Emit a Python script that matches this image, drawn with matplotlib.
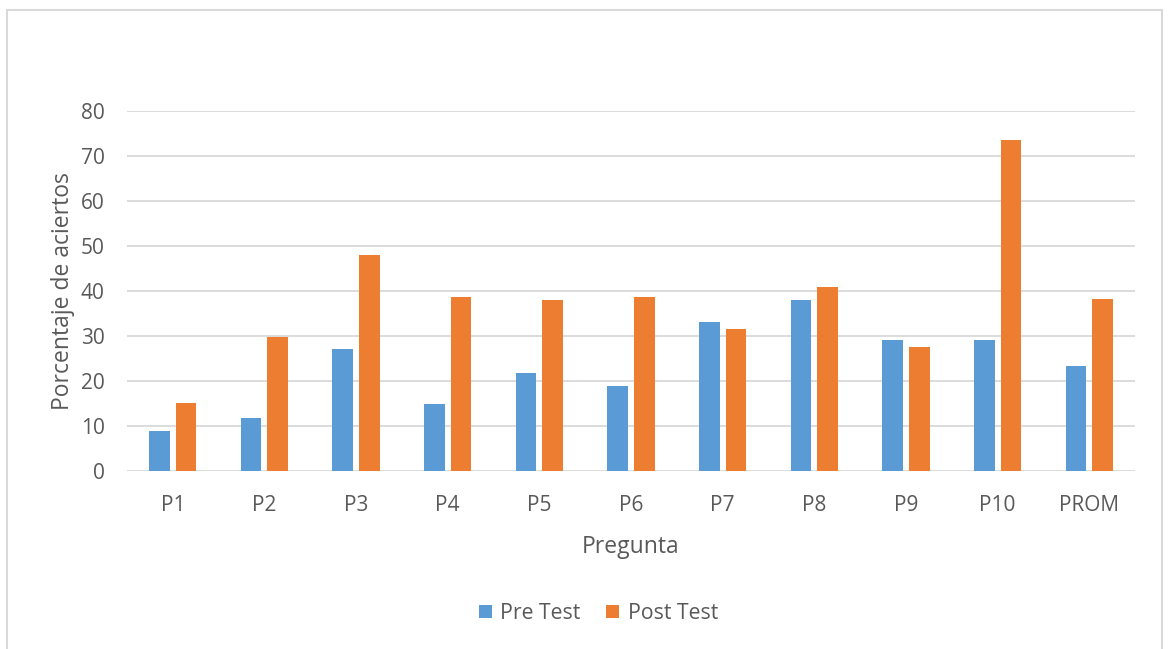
import matplotlib.pyplot as plt
import numpy as np
from matplotlib.patches import Rectangle

preguntas = ["P1", "P2", "P3", "P4", "P5", "P6", "P7", "P8", "P9", "P10", "PROM"]
pre_test = [8.9, 11.7, 27.0, 14.9, 21.8, 18.9, 33.0, 38.1, 29.1, 29.1, 23.3]
post_test = [15.2, 29.8, 48.0, 38.7, 38.1, 38.7, 31.5, 40.8, 27.6, 73.6, 38.2]
y_ticks = [0, 10, 20, 30, 40, 50, 60, 70, 80]

plt.rcParams['font.family'] = ['Open Sans', 'DejaVu Sans']
text_color = "#595959"

fig = plt.figure(figsize=(11.69, 6.49), dpi=100)
ax = fig.add_axes([0.1086, 0.2743, 0.8624, 0.5547])

x = np.arange(len(preguntas))
w = 0.225
ax.bar(x - 0.145, pre_test, width=w, color="#5B9BD5", label="Pre Test", zorder=3)
ax.bar(x + 0.145, post_test, width=w, color="#ED7D31", label="Post Test", zorder=3)

ax.set_xlim(-0.5, len(preguntas) - 0.5)
ax.set_ylim(0, 80)
ax.set_yticks(y_ticks)
ax.set_xticks(x)
ax.set_xticklabels(preguntas)
ax.yaxis.grid(True, color="#D9D9D9", linewidth=1.3, zorder=0)
ax.tick_params(length=0, labelsize=15, colors=text_color)
ax.tick_params(axis="y", pad=16)
ax.tick_params(axis="x", pad=17)
for s in ax.spines.values():
    s.set_visible(False)

ax.set_xlabel("Pregunta", fontsize=16.5, color=text_color, labelpad=14)
ax.set_ylabel("Porcentaje de aciertos", fontsize=16.5, color=text_color, labelpad=4)

fig.legend(loc="center", bbox_to_anchor=(0.512, 0.055), ncol=2, frameon=False,
           fontsize=15.3, labelcolor=text_color, handlelength=0.6, handleheight=0.6,
           columnspacing=1.2, handletextpad=0.4)

fig.patches.append(Rectangle((0.006, -0.01), 0.988, 0.995, transform=fig.transFigure,
                             fill=False, edgecolor="#D9D9D9", linewidth=1.5))

fig.savefig("out.png", dpi=100)
